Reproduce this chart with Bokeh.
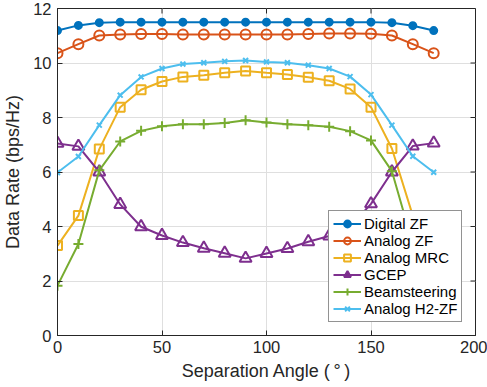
import math
from bokeh.plotting import figure
from bokeh.models import Range1d, FixedTicker
from bokeh.embed import file_html
from bokeh.resources import INLINE

angles = [0, 10, 20, 30, 40, 50, 60, 70, 80, 90, 100, 110, 120, 130, 140, 150, 160, 170, 180]
digital_zf = [11.19, 11.38, 11.48, 11.5, 11.5, 11.5, 11.5, 11.5, 11.5, 11.5, 11.5, 11.5, 11.5, 11.5, 11.5, 11.5, 11.48, 11.37, 11.19]
analog_zf = [10.36, 10.69, 11.01, 11.05, 11.06, 11.06, 11.05, 11.05, 11.05, 11.05, 11.05, 11.05, 11.06, 11.08, 11.08, 11.07, 11.01, 10.69, 10.36]
analog_mrc = [3.30, 4.40, 6.84, 8.38, 9.02, 9.32, 9.49, 9.55, 9.64, 9.71, 9.64, 9.58, 9.48, 9.35, 9.05, 8.38, 6.86, 4.40, 3.30]
gcep = [7.05, 6.94, 6.00, 4.81, 3.99, 3.67, 3.41, 3.20, 3.02, 2.83, 3.01, 3.19, 3.44, 3.65, 3.99, 4.83, 6.00, 6.95, 7.06]
beamsteering = [1.83, 3.36, 6.06, 7.12, 7.51, 7.68, 7.75, 7.75, 7.80, 7.90, 7.82, 7.75, 7.72, 7.66, 7.50, 7.16, 6.03, 3.36, 1.83]
analog_h2zf = [5.98, 6.57, 7.72, 8.82, 9.49, 9.80, 9.96, 10.01, 10.06, 10.09, 10.04, 10.01, 9.92, 9.80, 9.50, 8.84, 7.72, 6.58, 5.99]

x_ticks = [0, 50, 100, 150, 200]
y_ticks = [0, 2, 4, 6, 8, 10, 12]
X_MAX = 200
Y_MAX = 12

FONT = "Liberation Sans"
AX = "#262626"

p = figure(width=487, height=387, output_backend="svg", toolbar_location=None,
           x_range=Range1d(0, X_MAX), y_range=Range1d(0, Y_MAX),
           min_border_left=56, min_border_right=12, min_border_top=8, min_border_bottom=52)
p.background_fill_color = "white"
p.border_fill_color = "white"
p.outline_line_color = AX
p.outline_line_width = 1

for ax, ticks in ((p.xaxis[0], x_ticks), (p.yaxis[0], y_ticks)):
    ax.ticker = FixedTicker(ticks=ticks)
    ax.major_tick_in = 5
    ax.major_tick_out = 0
    ax.minor_tick_in = 0
    ax.minor_tick_out = 0
    ax.axis_line_color = AX
    ax.major_tick_line_color = AX
    ax.major_label_text_font = FONT
    ax.major_label_text_font_size = "16.5px"
    ax.major_label_text_color = AX
    ax.axis_label_text_font = FONT
    ax.axis_label_text_font_size = "18px"
    ax.axis_label_text_font_style = "normal"
    ax.axis_label_text_color = AX

p.xaxis.axis_label = "Separation Angle (\u2009°\u2009)"
p.yaxis.axis_label = "Data Rate (bps/Hz)"
p.xaxis.major_label_standoff = 5
p.xaxis.axis_label_standoff = 5
p.yaxis.major_label_standoff = 6
p.yaxis.axis_label_standoff = 7

# inward ticks on the right and top edges of the box
p.ray(x=[X_MAX] * len(y_ticks), y=y_ticks, length=5, length_units="screen",
      angle=math.pi, line_color=AX, line_width=1)
p.ray(x=x_ticks, y=[Y_MAX] * len(x_ticks), length=5, length_units="screen",
      angle=-math.pi / 2, line_color=AX, line_width=1)

p.xgrid.ticker = FixedTicker(ticks=x_ticks)
p.ygrid.ticker = FixedTicker(ticks=y_ticks)
p.grid.grid_line_color = "#dfdfdf"
p.grid.grid_line_width = 1

series = [
    ("Digital ZF", digital_zf, "#0072BD", "circle", 7, True),
    ("Analog ZF", analog_zf, "#D95319", "circle", 10, False),
    ("Analog MRC", analog_mrc, "#EDB120", "square", 9, False),
    ("GCEP", gcep, "#7E2F8E", "triangle", 12, False),
    ("Beamsteering", beamsteering, "#77AC30", "cross", 10, False),
    ("Analog H2-ZF", analog_h2zf, "#4DBEEE", "x", 7, False),
]

for name, ys, color, marker, size, filled in series:
    p.line(angles, ys, line_color=color, line_width=2, legend_label=name)
    p.scatter(angles, ys, marker=marker, size=size, line_color=color, line_width=2,
              fill_color=color if filled else None, legend_label=name)

lg = p.legend[0]
lg.location = (271, 13)
lg.label_text_font = FONT
lg.label_text_font_size = "15px"
lg.label_text_color = "black"
lg.border_line_color = AX
lg.border_line_width = 1
lg.background_fill_alpha = 1
lg.padding = 4
lg.margin = 0
lg.spacing = 0
lg.glyph_width = 28
lg.glyph_height = 17
lg.label_height = 17
lg.label_standoff = 3

open("out.html", "w").write(file_html(p, INLINE))
